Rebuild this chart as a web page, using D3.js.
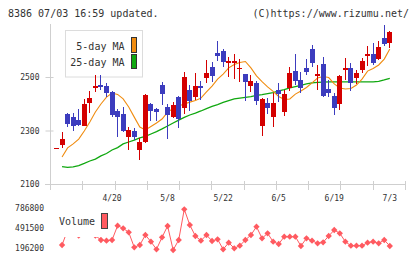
<!DOCTYPE html>
<html>
<head>
  <meta charset="UTF-8">
  <style>
    body { margin: 0; background: #fff; }
    text { font-family: "DejaVu Sans Mono", monospace; fill: #333; }
  </style>
</head>
<body>
<svg></svg>

<script src="https://d3js.org/d3.v7.min.js"></script>
<script>

let width = 420, height = 259;
let svg = d3.select("svg")
    .attr("width", width)
    .attr("height", height)
    .style("display", "block");

// daily prices (oldest -> newest)
const opens  = [2230,2245,2362,2349,2339,2318,2402,2459,2470,2466,2444,2372,2362,2277,2300,2227,2258,2399,2379,2470,
                2387,2349,2425,2383,2451,2426,2466,2497,2537,2590,2597,2553,2553,2530,2511,2467,2479,2318,2403,2352,
                2451,2370,2458,2522,2489,2532,2606,2504,2550,2454,2429,2399,2526,2532,2497,2526,2580,2585,2567,2645,2628];
const highs  = [2235,2293,2365,2364,2379,2418,2449,2507,2507,2478,2448,2381,2389,2313,2308,2271,2436,2404,2383,2482,
                2399,2408,2429,2517,2470,2515,2485,2564,2556,2635,2604,2575,2586,2566,2513,2507,2485,2420,2423,2440,
                2479,2451,2538,2586,2520,2569,2620,2545,2576,2487,2441,2506,2572,2553,2528,2571,2616,2626,2633,2694,2672];
const lows   = [2230,2233,2314,2300,2318,2316,2367,2445,2451,2425,2350,2277,2296,2227,2263,2188,2255,2337,2336,2395,
                2269,2346,2308,2362,2373,2413,2414,2479,2481,2560,2538,2500,2492,2481,2412,2445,2395,2281,2362,2314,
                2408,2355,2448,2470,2442,2506,2538,2453,2426,2426,2358,2377,2489,2449,2474,2516,2541,2544,2562,2616,2607];
const closes = [2235,2268,2324,2316,2319,2400,2423,2466,2466,2442,2358,2349,2298,2302,2275,2258,2433,2374,2370,2436,
                2358,2395,2342,2501,2411,2466,2460,2516,2505,2580,2557,2561,2561,2535,2482,2485,2411,2418,2384,2403,
                2435,2436,2516,2485,2459,2520,2553,2513,2429,2441,2384,2504,2532,2476,2515,2560,2586,2553,2611,2624,2668];

// moving averages
const ma5  = [null,2201,2235,2250,2268,2298,2332,2369,2399,2425,2440,2435,2418,2388,2350,2313,2302,2315,2328,2343,
              2369,2382,2392,2399,2406,2412,2421,2444,2466,2492,2511,2534,2547,2554,2558,2534,2504,2483,2463,2446,
              2427,2416,2418,2436,2448,2461,2478,2496,2502,2498,2474,2459,2455,2457,2470,2492,2522,2532,2545,2567,2605];
const ma25 = [null,2165,2162,2164,2169,2177,2186,2193,2205,2214,2227,2236,2250,2257,2264,2272,2278,2287,2296,2306,
              2317,2328,2339,2349,2358,2365,2373,2382,2390,2397,2405,2412,2418,2421,2424,2427,2431,2434,2438,2442,
              2448,2453,2459,2464,2469,2474,2478,2480,2481,2482,2482,2482,2482,2482,2482,2482,2482,2482,2484,2489,2495];

// volume
const volumes = [null,244900,466400,436900,385200,495900,436900,385200,318800,308400,318800,529900,491500,432400,211000,244900,392600,293600,181400,358600,
                 525500,171100,318800,772000,540200,377800,308400,392600,304000,329100,181400,278900,196200,234600,318800,392600,515100,343900,417700,293600,
                 259700,367500,367500,367500,230200,343900,308400,270000,284800,377800,466400,417700,293600,234600,234600,234600,278900,293600,270000,318800,230200];

// axis labels
const priceTicks = [2100, 2300, 2500];
const volTicks = [196200, 491500, 786800];
const dateLabels = ["4/20", "5/8", "5/22", "6/5", "6/19", "7/3"];
const dateLabelIdx = [10, 20, 30, 40, 50, 60];

const upColor = "#d40000", downColor = "#3c3cbe";
const ma5Color = "#f08c10", ma25Color = "#10a810", volColor = "#ff5a60";

let x = d3.scaleLinear().domain([0, 60]).range([56.5, 389.8]);
let y = d3.scaleLinear().domain([2100, 2700]).range([184, 23.5]);
let yv = d3.scaleLinear().domain([196200, 786800]).range([248.3, 208.3]);
let tickScale = d3.scaleLinear().domain([0, 11]).range([50, 405]);

// header texts
svg.append("text")
    .attr("x", 8).attr("y", 17)
    .attr("font-size", 10)
    .text("8386 07/03 16:59 updated.");
svg.append("text")
    .attr("x", 409).attr("y", 17)
    .attr("font-size", 10)
    .attr("text-anchor", "end")
    .text("(C)https://www.rizumu.net/");

// axes
let axisCol = "#cfcfcf";
svg.append("line")
    .attr("x1", 50.5).attr("x2", 50.5).attr("y1", 24).attr("y2", 190)
    .attr("stroke", axisCol);
svg.append("line")
    .attr("x1", 45).attr("x2", 405).attr("y1", 184.5).attr("y2", 184.5)
    .attr("stroke", axisCol);

svg.append("g")
    .selectAll("line")
    .data(d3.range(12))
    .join("line")
    .attr("x1", d => Math.round(tickScale(d)) + 0.5)
    .attr("x2", d => Math.round(tickScale(d)) + 0.5)
    .attr("y1", 181).attr("y2", 190)
    .attr("stroke", axisCol);

let yAxis = svg.append("g")
    .attr("transform", "translate(50.5,0)")
    .call(d3.axisLeft(y).tickValues(priceTicks).tickFormat(d3.format("d")).tickSize(5).tickPadding(6));
yAxis.select(".domain").remove();
yAxis.selectAll(".tick line").attr("x1", 3).attr("stroke", axisCol);
yAxis.selectAll(".tick text")
    .attr("font-family", "DejaVu Sans Mono")
    .attr("font-size", 8)
    .attr("fill", "#333");

svg.append("g")
    .selectAll("text")
    .data(dateLabelIdx)
    .join("text")
    .attr("x", d => x(d))
    .attr("y", 201)
    .attr("text-anchor", "middle")
    .attr("font-size", 8)
    .text((d, i) => dateLabels[i]);

svg.append("g")
    .selectAll("text")
    .data(volTicks)
    .join("text")
    .attr("x", 44)
    .attr("y", d => yv(d) + 3)
    .attr("text-anchor", "end")
    .attr("font-size", 8)
    .text(d => d);

// price legend
svg.append("rect")
    .attr("x", 65.5).attr("y", 30.5).attr("width", 77).attr("height", 46.5)
    .attr("fill", "#fff").attr("stroke", "#dcdcdc");
svg.append("text")
    .attr("x", 124.5).attr("y", 49.5).attr("text-anchor", "end").attr("font-size", 10)
    .text("5-day MA");
svg.append("text")
    .attr("x", 124.5).attr("y", 66).attr("text-anchor", "end").attr("font-size", 10)
    .text("25-day MA");
svg.append("rect")
    .attr("x", 131.5).attr("y", 37.5).attr("width", 5).attr("height", 15)
    .attr("fill", ma5Color).attr("stroke", "#333");
svg.append("rect")
    .attr("x", 131.5).attr("y", 54.5).attr("width", 5).attr("height", 14)
    .attr("fill", ma25Color).attr("stroke", "#333");

// moving average lines
let maLine = d3.line()
    .defined(d => d != null)
    .x((d, i) => x(i))
    .y(d => y(d));

svg.append("path")
    .datum(ma25)
    .attr("d", maLine)
    .attr("fill", "none")
    .attr("stroke", ma25Color)
    .attr("stroke-width", 1.3);

svg.append("path")
    .datum(ma5)
    .attr("d", maLine)
    .attr("fill", "none")
    .attr("stroke", ma5Color)
    .attr("stroke-width", 1.1);

// candles
let candles = svg.append("g")
    .attr("shape-rendering", "crispEdges")
    .selectAll("g")
    .data(d3.range(opens.length))
    .join("g");

candles.append("line")
    .attr("x1", i => Math.floor(x(i)) + 0.5)
    .attr("x2", i => Math.floor(x(i)) + 0.5)
    .attr("y1", i => y(highs[i]))
    .attr("y2", i => y(lows[i]))
    .attr("stroke", i => closes[i] >= opens[i] ? upColor : downColor);

candles.append("rect")
    .attr("x", i => Math.floor(x(i)) - 2)
    .attr("width", 5)
    .attr("y", i => y(Math.max(opens[i], closes[i])))
    .attr("height", i => Math.max(1.5, Math.abs(y(opens[i]) - y(closes[i]))))
    .attr("fill", i => closes[i] >= opens[i] ? upColor : downColor);

// volume
let volLine = d3.line()
    .defined(d => d != null)
    .x((d, i) => x(i))
    .y(d => yv(d));

svg.append("path")
    .datum(volumes)
    .attr("d", volLine)
    .attr("fill", "none")
    .attr("stroke", volColor)
    .attr("stroke-width", 1);

svg.append("g")
    .selectAll("path")
    .data(volumes.map((v, i) => [i, v]).filter(d => d[1] != null))
    .join("path")
    .attr("d", d3.symbol(d3.symbolSquare, 20))
    .attr("transform", d => "translate(" + x(d[0]) + "," + yv(d[1]) + ") rotate(45)")
    .attr("fill", volColor);

// volume legend (white box sits over the line)
svg.append("rect")
    .attr("x", 57).attr("y", 206).attr("width", 53).attr("height", 31)
    .attr("fill", "#fff");
svg.append("text")
    .attr("x", 59).attr("y", 225).attr("font-size", 10)
    .text("Volume");
svg.append("rect")
    .attr("x", 101.5).attr("y", 213.5).attr("width", 6).attr("height", 15)
    .attr("fill", volColor).attr("stroke", "#444");

</script>
</body>
</html>
